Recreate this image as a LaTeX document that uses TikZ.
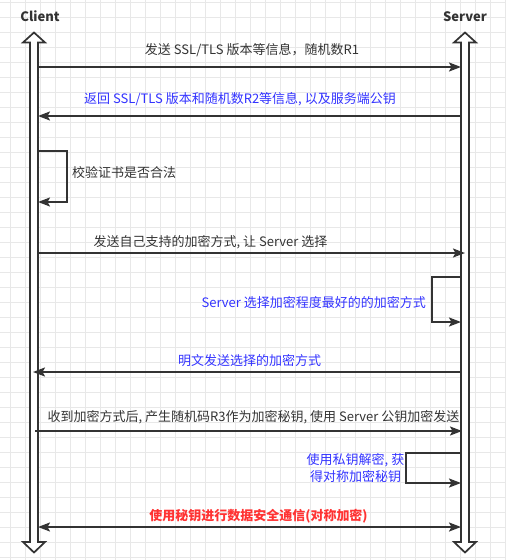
\documentclass[tikz,border=0pt]{standalone}
\usepackage{fontspec}
\setmainfont{Noto Sans CJK SC}
\usetikzlibrary{arrows.meta}

\definecolor{ink}{HTML}{333333}
\definecolor{msgblue}{HTML}{3333FF}
\definecolor{msgred}{HTML}{FF3333}
\definecolor{gridline}{HTML}{E8E8E8}

\tikzset{
  lifeline/.style={draw=ink, line width=1.7pt, fill=white, line join=miter},
  tipshape/.style={Stealth[length=12pt,width=9pt,inset=2.5pt]},
  msg/.style={draw=ink, line width=2pt, -{Stealth[length=12pt,width=9pt,inset=2.5pt]}},
  bothmsg/.style={draw=ink, line width=2pt, {Stealth[length=12pt,width=9pt,inset=2.5pt]}-{Stealth[length=12pt,width=9pt,inset=2.5pt]}},
  lbl/.style={font=\fontsize{13}{16}\selectfont, text=ink, inner sep=0pt, anchor=base, yshift=-5pt},
  bluelbl/.style={lbl, text=msgblue},
  redlbl/.style={lbl, text=msgred, font=\fontsize{13}{16}\selectfont\bfseries},
  actor/.style={lbl, font=\fontsize{13}{16}\selectfont\bfseries},
}

\begin{document}
\begin{tikzpicture}[x=1pt, y=-1pt]
  % canvas and background grid
  \fill[white] (0,0) rectangle (506,560);
  \useasboundingbox (0,0) rectangle (506,560);
  \foreach \gx in {0,...,33} \draw[gridline, line width=0.8pt] (10.5+15*\gx,0) -- (10.5+15*\gx,560);
  \foreach \gy in {0,...,37} \draw[gridline, line width=0.8pt] (0,2.3+15*\gy) -- (506,2.3+15*\gy);

  % participants
  \node[actor] (client) at (40,16) {Client};
  \node[actor] (server) at (465,16) {Server};

  % lifelines: hollow double-headed arrows
  \draw[lifeline] (30,42.5) -- (23,42.5) -- (34,32.5) -- (45,42.5) -- (38,42.5)
    -- (38,542) -- (45,542) -- (34,552.5) -- (23,542) -- (30,542) -- cycle;
  \draw[lifeline] (461,42.5) -- (454,42.5) -- (465,32.5) -- (476,42.5) -- (469,42.5)
    -- (469,542) -- (476,542) -- (465,552.5) -- (454,542) -- (461,542) -- cycle;

  % anchor points on the lifelines
  \coordinate (c1) at (38,67);   \coordinate (s1) at (461,67);
  \coordinate (c2) at (38,116);  \coordinate (s2) at (461,116);
  \coordinate (c3a) at (38,151); \coordinate (c3b) at (38,202);
  \coordinate (c4) at (38,253);  \coordinate (s4) at (465,253);
  \coordinate (s5a) at (461,277); \coordinate (s5b) at (461,322);
  \coordinate (c6) at (33,372);  \coordinate (s6) at (461,372);
  \coordinate (c7) at (35,431);  \coordinate (s7) at (462,431);
  \coordinate (s8a) at (461,453); \coordinate (s8b) at (461,483);
  \coordinate (c9) at (38,527);  \coordinate (s9) at (461,527);

  % messages
  \draw[msg] (c1) -- (s1);
  \node[lbl] (m1) at (252,49) {发送 SSL/TLS 版本等信息，随机数R1};

  \draw[msg] (s2) -- (c2);
  \node[bluelbl] (m2) at (240,98) {返回 SSL/TLS 版本和随机数R2等信息, 以及服务端公钥};

  \draw[msg] (c3a) -- (67,151) -- (67,202) -- (c3b);
  \node[lbl, anchor=base west] (m3) at (72,172) {校验证书是否合法};

  \draw[msg] (c4) -- (s4);
  \node[lbl] (m4) at (210.5,241) {发送自己支持的加密方式, 让 Server 选择};

  \draw[msg] (s5a) -- (432,277) -- (432,322) -- (s5b);
  \node[bluelbl, anchor=base east] (m5) at (426,302) {Server 选择加密程度最好的的加密方式};

  \draw[msg] (s6) -- (c6);
  \node[bluelbl] (m6) at (249.5,360) {明文发送选择的加密方式};

  \draw[msg] (c7) -- (s7);
  \node[lbl] (m7) at (253.5,416) {收到加密方式后, 产生随机码R3作为加密秘钥, 使用 Server 公钥加密发送};

  \draw[msg] (s8a) -- (406,453) -- (406,483) -- (s8b);
  \node[bluelbl] (m8a) at (355.5,459) {使用私钥解密, 获};
  \node[bluelbl] (m8b) at (355.5,476) {得对称加密秘钥};

  \draw[bothmsg] (c9) -- (s9);
  \node[redlbl] (m9) at (258.5,515) {使用秘钥进行数据安全通信(对称加密)};
\end{tikzpicture}
\end{document}
